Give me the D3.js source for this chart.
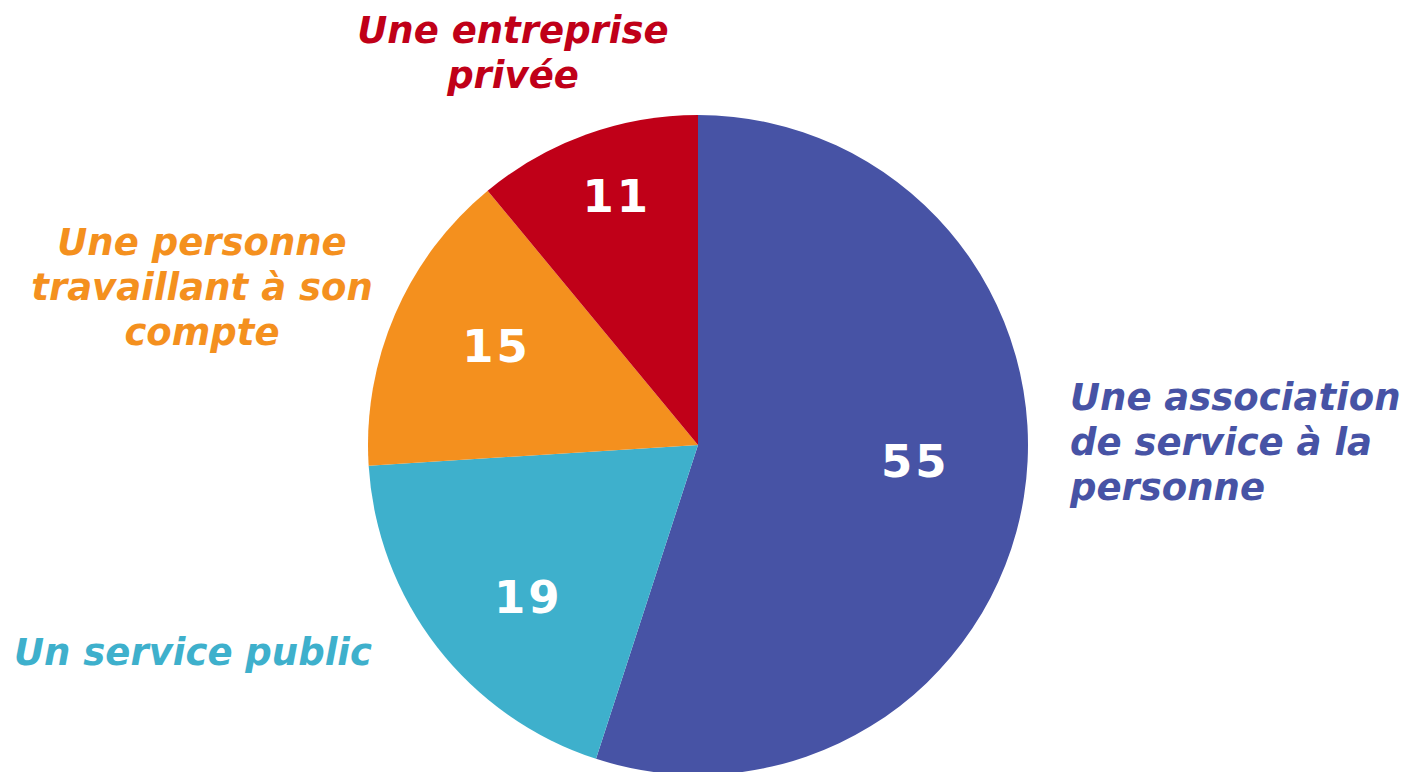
<!DOCTYPE html>
<meta charset="utf-8">
<script src="https://d3js.org/d3.v7.min.js"></script>
<style>
  body { margin: 0; background: #fff; }
</style>
<div id="pie_viz"></div>
<script>

// categories, values and colours (clockwise from 12 o'clock)
var categories = [
  ["Une association", "de service à la", "personne"],
  ["Un service public"],
  ["Une personne", "travaillant à son", "compte"],
  ["Une entreprise", "privée"]
];
var values = [55, 19, 15, 11];
var colors = ["#4753A5", "#3EB0CC", "#F4901E", "#C00018"];

var width = 1403, height = 772;
var cx = 698, cy = 445, radius = 330;

var svg = d3.select("#pie_viz")
  .append("svg")
    .attr("width", width)
    .attr("height", height);

var g = svg.append("g")
  .attr("transform", "translate(" + cx + "," + cy + ")");

var pie = d3.pie().sort(null).value(function(d) { return d; });
var arcs = pie(values);

var arc = d3.arc().innerRadius(0).outerRadius(radius);
var labelArc = d3.arc().innerRadius(225).outerRadius(225);

// slices
g.selectAll("path")
  .data(arcs)
  .enter()
  .append("path")
    .attr("d", arc)
    .attr("fill", function(d, i) { return colors[i]; });

// value labels, nudged like the original's best-fit placement
var nudge = [[-5, -19], [8, 14], [5, -10], [-5, -38]];
g.selectAll("text.val")
  .data(arcs)
  .enter()
  .append("text")
    .attr("class", "val")
    .attr("x", function(d, i) { return labelArc.centroid(d)[0] + nudge[i][0]; })
    .attr("y", function(d, i) { return labelArc.centroid(d)[1] + nudge[i][1]; })
    .attr("dy", "0.36em")
    .attr("text-anchor", "middle")
    .style("font-family", "'DejaVu Sans', Verdana, sans-serif")
    .style("font-weight", "bold")
    .style("font-size", "45px")
    .style("letter-spacing", "3px")
    .style("fill", "#fff")
    .text(function(d) { return d.data; });

// category labels (outside the pie)
var catPos = [
  {x: 1070, y: 410, anchor: "start"},
  {x: 193, y: 665, anchor: "middle"},
  {x: 202, y: 255, anchor: "middle"},
  {x: 513, y: 43, anchor: "middle"}
];

categories.forEach(function(lines, i) {
  var t = svg.append("text")
    .attr("x", catPos[i].x)
    .attr("y", catPos[i].y)
    .attr("text-anchor", catPos[i].anchor)
    .style("font-family", "'DejaVu Sans', Verdana, sans-serif")
    .style("font-weight", "bold")
    .style("font-style", "italic")
    .style("font-size", "37px")
    .style("fill", colors[i]);
  lines.forEach(function(l, j) {
    t.append("tspan")
      .attr("x", catPos[i].x)
      .attr("dy", j == 0 ? 0 : 45)
      .text(l);
  });
});

</script>
